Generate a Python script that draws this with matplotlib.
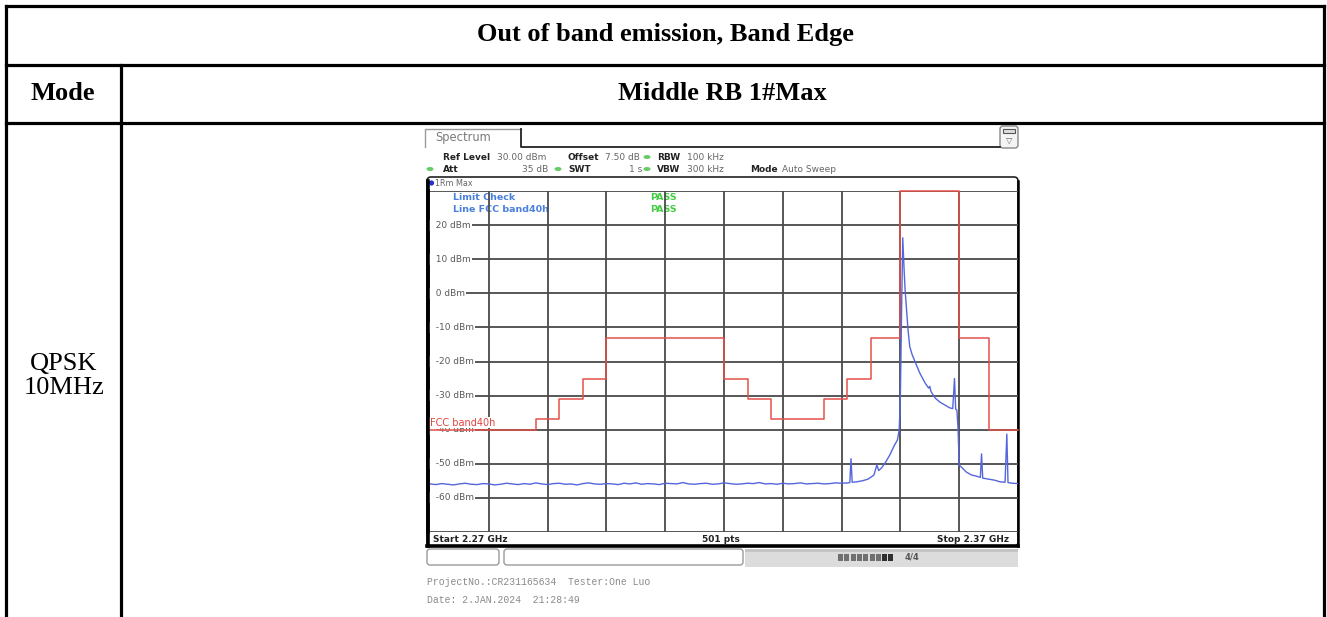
import matplotlib
matplotlib.use("Agg")
import matplotlib.pyplot as plt
from matplotlib.patches import FancyBboxPatch, Rectangle, Ellipse, Circle

W, H, DPI = 1327, 617, 100

# ---------------- table text ----------------
title = "Out of band emission, Band Edge"
mode_header = "Mode"
column_header = "Middle RB 1#Max"
mode_label = "QPSK\n10MHz"

# ---------------- analyzer settings ----------------
start_mhz, stop_mhz = 2270, 2370
ref_level, bottom_level = 30, -70
level_ticks = [20, 10, 0, -10, -20, -30, -40, -50, -60]
freq_grid = [2280, 2290, 2300, 2310, 2320, 2330, 2340, 2350, 2360]

# FCC band 40 limit line (MHz, dBm), stepped
limit_freq = [2270, 2288, 2292, 2296, 2300, 2320, 2324, 2328, 2337, 2341, 2345, 2350, 2360, 2365, 2370]
limit_level = [-40, -37, -31, -25, -13, -25, -31, -37, -31, -25, -13, 30, -13, -40, -40]

# measured trace: noise floor, 1 MHz steps from 2270 to 2340
noise_freq = list(range(2270, 2341))
noise_level = [-55.9, -56.1, -55.8, -56.0, -56.2, -55.9, -55.7, -56.0, -56.1, -55.8,
               -55.9, -56.2, -56.0, -55.7, -55.9, -56.1, -55.8, -56.0, -55.6, -55.9,
               -56.1, -55.8, -55.7, -56.0, -55.9, -56.2, -55.8, -55.6, -55.9, -56.0,
               -55.8, -55.9, -56.1, -55.7, -55.9, -55.6, -56.0, -55.8, -55.9, -56.1,
               -55.7, -55.8, -55.9, -55.5, -55.9, -56.0, -55.8, -55.7, -56.0, -55.9,
               -55.6, -55.8, -56.0, -55.9, -55.7, -55.8, -55.5, -55.9, -55.8, -56.0,
               -55.7, -55.9, -55.8, -55.6, -55.9, -55.8, -55.7, -55.9, -55.8, -55.6, -55.7]
# measured trace: carrier and upper edge
carrier_freq = [2341.0, 2341.4, 2341.6, 2341.8, 2342.5, 2343.5, 2344.5, 2345.5, 2346.0, 2346.3,
                2346.8, 2347.5, 2348.2, 2349.0, 2349.5, 2349.8, 2350.0, 2350.2, 2350.4, 2350.6,
                2350.8, 2351.3, 2351.6, 2352.0, 2352.5, 2353.3, 2354.2, 2354.8, 2355.0, 2355.2,
                2355.9, 2356.7, 2357.6, 2358.4, 2358.9, 2359.2, 2359.4, 2359.6, 2359.8, 2360.0,
                2360.4, 2361.2, 2362.1, 2362.9, 2363.6, 2363.8, 2364.0, 2365.0, 2366.0, 2367.0,
                2367.8, 2368.1, 2368.3, 2369.0, 2370.0]
carrier_level = [-55.6, -55.5, -48.5, -55.4, -55.3, -55.0, -54.5, -53.3, -50.3, -52.0,
                 -51.2, -49.5, -47.4, -44.5, -43.0, -40.0, -30.0, -5.0, 16.3, 8.0,
                 1.0, -10.8, -15.7, -18.0, -20.1, -23.4, -26.3, -27.8, -27.3, -28.8,
                 -30.7, -31.9, -32.8, -33.6, -33.8, -25.0, -34.0, -34.2, -39.5, -50.4,
                 -51.0, -52.4, -53.3, -53.6, -54.0, -47.1, -54.2, -54.5, -54.8, -55.3,
                 -55.4, -41.3, -55.5, -55.7, -55.8]

trace_freq = noise_freq + carrier_freq
trace_level = noise_level + carrier_level

SERIF = "Liberation Serif"
SANS = "DejaVu Sans"
MONO = "Liberation Mono"

fig = plt.figure(figsize=(W / DPI, H / DPI), dpi=DPI)
bg = fig.add_axes([0, 0, 1, 1])
bg.set_xlim(0, W)
bg.set_ylim(H, 0)
bg.axis("off")

# ---------------- table ----------------
rule = dict(color="black", lw=2.3, solid_capstyle="projecting")
for y in (6, 65, 123):
    bg.plot([6, 1324], [y, y], **rule)
bg.plot([6, 6], [6, H + 5], **rule)
bg.plot([1324, 1324], [6, H + 5], **rule)
bg.plot([121, 121], [65, H + 5], **rule)

bg.text(665, 35, title, ha="center", va="center", fontsize=19, fontweight="bold", family=SERIF)
bg.text(63, 94, mode_header, ha="center", va="center", fontsize=19, fontweight="bold", family=SERIF)
bg.text(722, 94, column_header, ha="center", va="center", fontsize=19, fontweight="bold", family=SERIF)
bg.text(64, 376, mode_label, ha="center", va="center", fontsize=19, family=SERIF, linespacing=1.1)

# ---------------- analyzer window chrome ----------------
bg.plot([425, 425, 521], [147, 129, 129], color="#9a9a9a", lw=1.0)
bg.plot([521, 521, 1000], [129, 147, 147], color="#222222", lw=1.3)
bg.text(435, 137, "Spectrum", ha="left", va="center", fontsize=8.3, color="#7a7a7a", family=SANS)

# small icon at top right
bg.add_patch(FancyBboxPatch((1000, 126), 18, 22, boxstyle="round,pad=0,rounding_size=3",
                            ec="#888888", fc="#f4f4f4", lw=1.0))
bg.add_patch(Rectangle((1003, 129), 12, 4, ec="#555555", fc="#dddddd", lw=0.8))
bg.text(1009, 140, "\u25BD", ha="center", va="center", fontsize=6, color="#666666", family=SANS)

hdr = dict(va="center", fontsize=6.5, family=SANS)
bold = dict(hdr, fontweight="bold", color="#222222")
val = dict(hdr, color="#666666")
bg.text(443, 157, "Ref Level", **bold)
bg.text(497, 157, "30.00 dBm", **val)
bg.text(567, 157, "Offset", **bold)
bg.text(605, 157, "7.50 dB", **val)
bg.text(657, 157, "RBW", **bold)
bg.text(687, 157, "100 kHz", **val)
bg.text(443, 169, "Att", **bold)
bg.text(548, 169, "35 dB", ha="right", **val)
bg.text(568, 169, "SWT", **bold)
bg.text(642, 169, "1 s", ha="right", **val)
bg.text(657, 169, "VBW", **bold)
bg.text(687, 169, "300 kHz", **val)
bg.text(750, 169, "Mode", **bold)
bg.text(782, 169, "Auto Sweep", **val)
for (x, y) in [(647, 157), (430, 169), (558, 169), (647, 169)]:
    bg.add_patch(Ellipse((x, y), 7, 4, fc="#66cc66", ec="none"))

# display frame
bg.add_patch(FancyBboxPatch((427, 177), 591, 369, boxstyle="round,pad=0,rounding_size=4",
                            ec="#222222", fc="none", lw=1.2))
bg.plot([428, 428], [181, 546], color="black", lw=2.6)
bg.plot([1018, 1018], [181, 546], color="black", lw=1.8)
bg.plot([427, 1018], [546, 546], color="black", lw=2.6, solid_capstyle="projecting")

bg.add_patch(Circle((431.5, 183), 2.6, fc="#2233cc", ec="none"))
bg.text(435, 183.5, "1Rm Max", va="center", fontsize=5.8, color="#666666", family=SANS)

# limit check summary (sits under the grid)
lc = dict(va="center", fontsize=6.8, fontweight="bold", family=SANS)
bg.text(453, 198, "Limit Check", color="#4a80dd", **lc)
bg.text(453, 209, "Line FCC band40h", color="#4a80dd", **lc)
bg.text(650, 198, "PASS", color="#44cc44", **lc)
bg.text(650, 209, "PASS", color="#44cc44", **lc)

# footer row of the display
foot = dict(va="center", fontsize=6.5, fontweight="bold", family=SANS, color="#222222")
bg.text(433, 539, "Start 2.27 GHz", ha="left", **foot)
bg.text(721, 539, "501 pts", ha="center", **foot)
bg.text(1009, 539, "Stop 2.37 GHz", ha="right", **foot)

# status bar below the display
bg.add_patch(FancyBboxPatch((427, 549), 72, 16, boxstyle="round,pad=0,rounding_size=3",
                            ec="#9a9a9a", fc="white", lw=1.0))
bg.add_patch(FancyBboxPatch((504, 549), 239, 16, boxstyle="round,pad=0,rounding_size=3",
                            ec="#9a9a9a", fc="white", lw=1.0))
bg.add_patch(Rectangle((745, 549), 273, 18, fc="#dcdcdc", ec="none"))
bg.add_patch(Rectangle((745, 549), 273, 3, fc="#c4c4c4", ec="none"))
for i in range(9):
    bg.add_patch(Rectangle((838 + i * 6.3, 554), 5, 7, fc="#707070" if i < 7 else "#303030", ec="none"))
bg.text(905, 557, "4/4", va="center", fontsize=6, color="#555555", family=SANS, fontweight="bold")

mono = dict(va="center", fontsize=7, family=MONO, color="#8a8a8a")
bg.text(427, 582, "ProjectNo.:CR231165634  Tester:One Luo", **mono)
bg.text(427, 600, "Date: 2.JAN.2024  21:28:49", **mono)

# ---------------- spectrum grid ----------------
gx0, gx1, gy0, gy1 = 430, 1018, 191, 532
ax = fig.add_axes([gx0 / W, 1 - gy1 / H, (gx1 - gx0) / W, (gy1 - gy0) / H])
ax.patch.set_visible(False)
ax.set_xlim(start_mhz, stop_mhz)
ax.set_ylim(bottom_level, ref_level)
for s in ax.spines.values():
    s.set_visible(False)
ax.set_xticks([])
ax.set_yticks([])

grid_kw = dict(color="#4a4a4a", lw=1.3, zorder=1)
for f in freq_grid:
    ax.axvline(f, **grid_kw)
for lvl in level_ticks + [ref_level, bottom_level]:
    ax.axhline(lvl, **grid_kw)

for lvl in level_ticks:
    ax.text(start_mhz, lvl, f"  {lvl} dBm", ha="left", va="center", fontsize=6.5,
            color="#5a5a5a", family=SANS, zorder=3,
            bbox=dict(fc="white", ec="none", pad=0.8))

ax.text(start_mhz, -37.9, "FCC band40h", ha="left", va="center", fontsize=7,
        color="#e0453f", family=SANS, zorder=3.5,
        bbox=dict(fc="white", ec="none", pad=0.6))

ax.step(limit_freq, limit_level, where="post", color="#e4504a", lw=1.1, zorder=4, clip_on=False)
ax.plot(trace_freq, trace_level, color="#5566dd", lw=1.0, zorder=5)

# left edge of the display frame, kept above the level labels
ax.plot([-2.0 / (gx1 - gx0)] * 2, [0, 1], transform=ax.transAxes, color="black",
        lw=2.6, clip_on=False, zorder=6)

fig.savefig("out.png", dpi=DPI)
